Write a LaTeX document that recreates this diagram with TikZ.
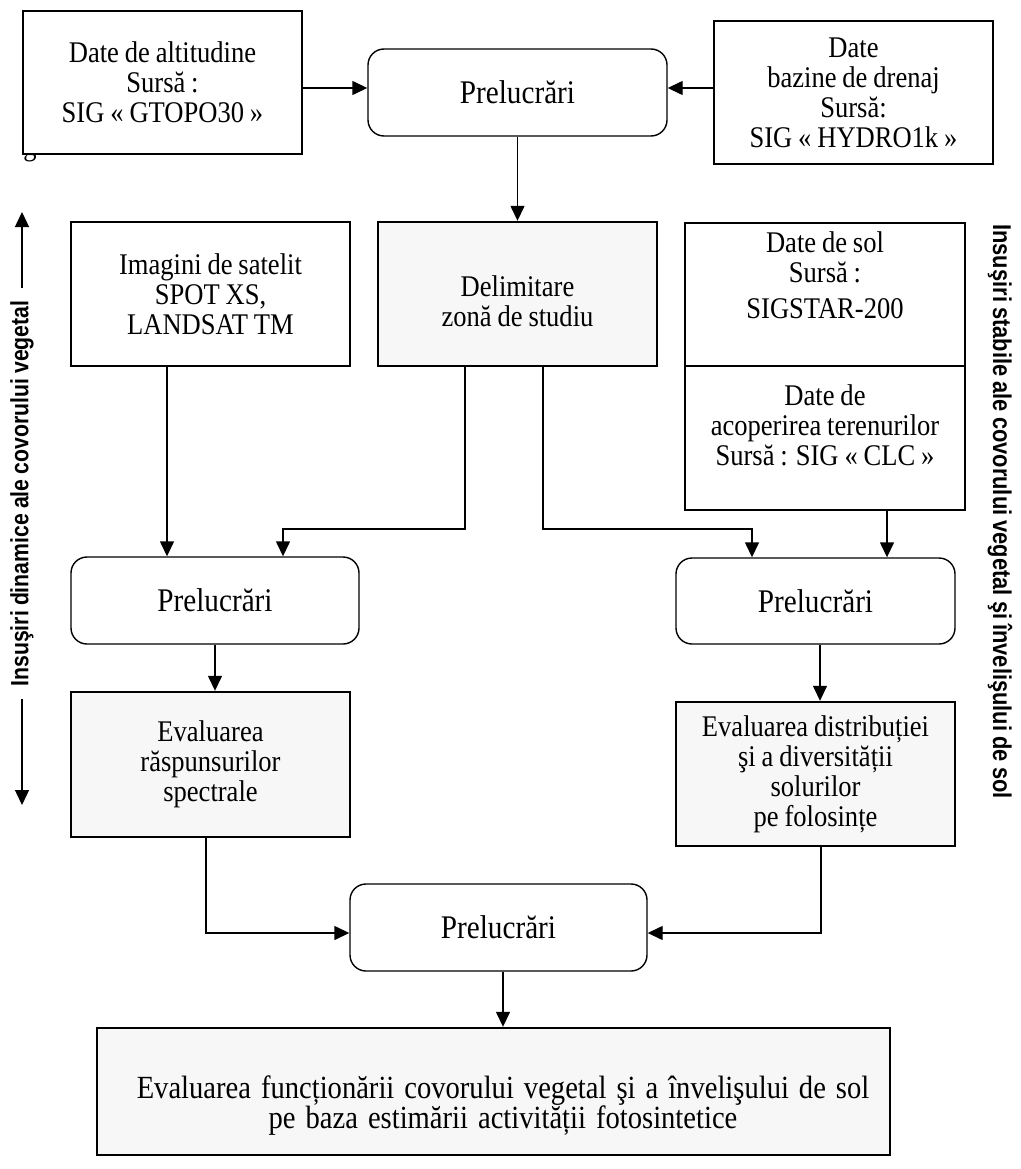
\documentclass[tikz,border=0pt]{standalone}
\usepackage{fontspec}
\setmainfont{Liberation Serif}[FakeStretch=0.885, WordSpace=0.885]
\newfontfamily\sidefont{Liberation Sans}[FakeStretch=0.85, WordSpace=0.85, BoldFeatures={FakeStretch=0.85}]
\usetikzlibrary{arrows.meta}
\definecolor{boxgray}{HTML}{F7F7F7}
\newcommand\txtsize{\fontsize{30}{30}\selectfont}
\newcommand\prelsize{\fontsize{33}{33}\selectfont}
\begin{document}
\begin{tikzpicture}[x=1pt,y=-1pt,
  plain/.style={draw, line width=1.4pt, rectangle, inner sep=0pt, align=center, font=\txtsize, fill=white},
  shaded/.style={plain, fill=boxgray, line width=2.4pt},
  rnd/.style={plain, rounded corners=16pt, font=\prelsize},
  arr/.style={line width=1.4pt, -{Triangle[length=15pt,width=14pt]}},
  lbl/.style={align=center, font=\txtsize, inner sep=0pt},
  side/.style={font=\sidefont\bfseries\fontsize{25}{28}\selectfont, inner xsep=12pt, inner ysep=0pt}
]
\useasboundingbox (0,0) rectangle (1020,1169);
\fill[white] (0,0) rectangle (1020,1169);

% clipped glyph under the first box
\node[lbl, anchor=base] (gart) at (30,156) {g};

% top row
\node[plain, minimum width=279pt, minimum height=143pt] (alt) at (162.5,82.5)
  {Date de altitudine\\Sursă :\\SIG « GTOPO30 »};
\node[rnd, minimum width=299pt, minimum height=87pt] (prel1) at (517.5,92.5) {Prelucrări};
\node[plain, minimum width=279pt, minimum height=143pt] (hyd) at (853.5,92.5)
  {Date\\bazine de drenaj\\Sursă:\\SIG « HYDRO1k »};

% second row
\node[plain, minimum width=279pt, minimum height=144pt] (img) at (210.5,294)
  {Imagini de satelit\\SPOT XS,\\LANDSAT TM};
\node[shaded, minimum width=279pt, minimum height=144pt] (delim) at (517.5,294) {};
\node[lbl] (delimtxt) at (517.5,301) {Delimitare\\zonă de studiu};
\node[plain, minimum width=280pt, minimum height=143pt] (sol) at (825,294.5) {};
\node[lbl] (soltxt) at (825,275.5) {Date de sol\\Sursă :\\[6pt]SIGSTAR-200};
\node[plain, minimum width=280pt, minimum height=144pt] (clc) at (825,438) {};
\node[lbl] (clctxt) at (825,425) {Date de\\acoperirea terenurilor\\Sursă : SIG « CLC »};

% third row
\node[rnd, minimum width=288pt, minimum height=87pt] (prel2) at (215,600.5) {Prelucrări};
\node[rnd, minimum width=279pt, minimum height=86pt] (prel3) at (815.5,601) {Prelucrări};

% fourth row
\node[shaded, minimum width=279pt, minimum height=145pt] (evs) at (210.5,764.5)
  {Evaluarea\\răspunsurilor\\spectrale};
\node[shaded, minimum width=279pt, minimum height=144pt] (evd) at (815.5,774)
  {Evaluarea distribuției\\şi a diversității\\solurilor\\pe folosințe};

% bottom
\node[rnd, minimum width=297pt, minimum height=87pt] (prel4) at (498.5,927.5) {Prelucrări};
\node[shaded, minimum width=793pt, minimum height=127pt] (final) at (493.5,1091.5) {};
\node[lbl, text width=790pt] (finaltxt) at (503,1106)
  {\fontsize{32.3}{35}\selectfont Evaluarea funcționării covorului vegetal şi a învelişului de sol\\pe baza estimării activității fotosintetice};

% connectors
\coordinate (bl) at (283,529);
\coordinate (br) at (752,529);
\draw[arr] (alt.east |- 0,88) -- (prel1.west |- 0,88);
\draw[arr] (hyd.west |- 0,88) -- (prel1.east |- 0,88);
\draw[arr] (prel1.south) -- (delim.north);
\draw[arr] (img.south -| 167,0) -- (prel2.north -| 167,0);
\draw[arr] (delim.south -| 465,0) |- (bl) -- (prel2.north -| bl);
\draw[arr] (delim.south -| 543,0) |- (br) -- (prel3.north -| br);
\draw[arr] (clc.south -| 887,0) -- (prel3.north -| 887,0);
\draw[arr] (prel2.south) -- (evs.north -| prel2.south);
\draw[arr] (prel3.south -| 820,0) -- (evd.north -| 820,0);
\draw[arr] (evs.south -| 206,0) |- (prel4.west |- 0,933);
\draw[arr] (evd.south -| 821,0) |- (prel4.east |- 0,933);
\draw[arr] (prel4.south -| 503,0) -- (final.north -| 503,0);

% side labels
\node[side, rotate=90] (lside) at (22,493.5) {Insuşiri dinamice ale covorului vegetal};
\coordinate (ltop) at (22,212);
\coordinate (lbot) at (22,805);
\draw[arr] (lside.east) -- (ltop);
\draw[arr] (lside.west) -- (lbot);
\node[side, rotate=-90, font=\sidefont\bfseries\fontsize{25.7}{28}\selectfont] (rside) at (1000,511.5) {Insuşiri stabile ale covorului vegetal şi învelişului de sol};
\end{tikzpicture}
\end{document}
